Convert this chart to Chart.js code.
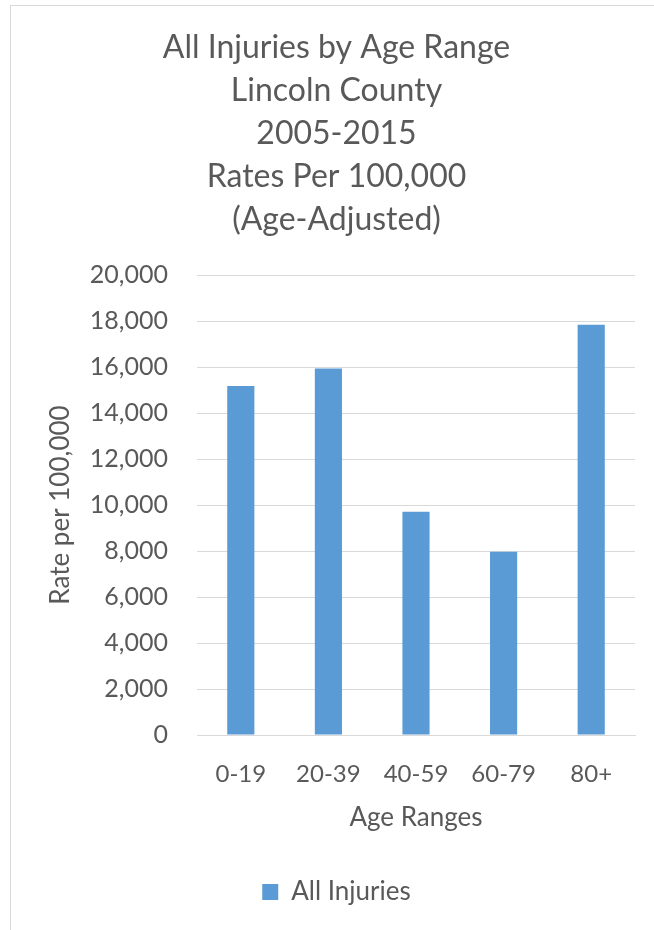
<!DOCTYPE html>
<html>
<head>
<meta charset="utf-8">
<script src="https://cdn.jsdelivr.net/npm/chart.js@4"></script>
<style>
  html, body { margin: 0; padding: 0; background: #fff; overflow: hidden; width: 654px; height: 930px; }
  #frame { position: absolute; left: 10px; top: 5px; width: 700px; height: 1000px; border: 1px solid #d9d9d9; }
  #wrap { position: absolute; left: 10px; top: 5px; width: 654px; height: 925px; }
</style>
</head>
<body>
<div id="frame"></div>
<div id="wrap"><canvas id="chart"></canvas></div>
<script>
// chart data
const titleLines = ['All Injuries by Age Range', 'Lincoln County', '2005-2015', 'Rates Per 100,000', '(Age-Adjusted)'];
const ageRanges = ['0-19', '20-39', '40-59', '60-79', '80+'];
const allInjuries = [15170, 15940, 9710, 7970, 17840];
const seriesName = 'All Injuries';

const textColor = '#595959';
const fontFamily = 'Lato, Carlito, Calibri, sans-serif';

const ctx = document.getElementById('chart').getContext('2d');
new Chart(ctx, {
    type: 'bar',
    data: {
        labels: ageRanges,
        datasets: [{
            label: seriesName,
            data: allInjuries,
            backgroundColor: '#5B9BD5',
            borderWidth: 0,
            categoryPercentage: 1,
            barPercentage: 0.31
        }]
    },
    options: {
        responsive: true,
        maintainAspectRatio: false,
        animation: false,
        layout: { padding: { top: 0, left: 28, right: 29, bottom: 15 } },
        plugins: {
            title: {
                display: true,
                text: titleLines,
                color: textColor,
                font: { family: fontFamily, size: 32, weight: 'normal', lineHeight: '43px' },
                padding: { top: 21, bottom: 34 }
            },
            legend: {
                position: 'bottom',
                labels: {
                    color: textColor,
                    font: { family: fontFamily, size: 26 },
                    boxWidth: 16,
                    boxHeight: 16,
                    padding: 10
                }
            },
            tooltip: { enabled: false }
        },
        scales: {
            x: {
                grid: { display: false, drawTicks: false },
                border: { color: '#d9d9d9' },
                ticks: { color: textColor, font: { family: fontFamily, size: 24 }, padding: 25, maxRotation: 0 },
                title: {
                    display: true,
                    text: 'Age Ranges',
                    color: textColor,
                    font: { family: fontFamily, size: 26 },
                    padding: { top: 0, bottom: 36 }
                },
                afterFit: s => { s.height = 134; }
            },
            y: {
                min: 0,
                max: 20000,
                ticks: {
                    stepSize: 2000,
                    color: textColor,
                    font: { family: fontFamily, size: 25 },
                    padding: 29,
                    callback: v => v.toLocaleString('en-US')
                },
                grid: { color: '#d9d9d9', drawTicks: false },
                border: { display: false },
                title: {
                    display: true,
                    text: 'Rate per 100,000',
                    color: textColor,
                    font: { family: fontFamily, size: 26 },
                    padding: { top: 7, bottom: 0 }
                },
                afterFit: s => { s.width = 159; }
            }
        }
    }
});
</script>
</body>
</html>
